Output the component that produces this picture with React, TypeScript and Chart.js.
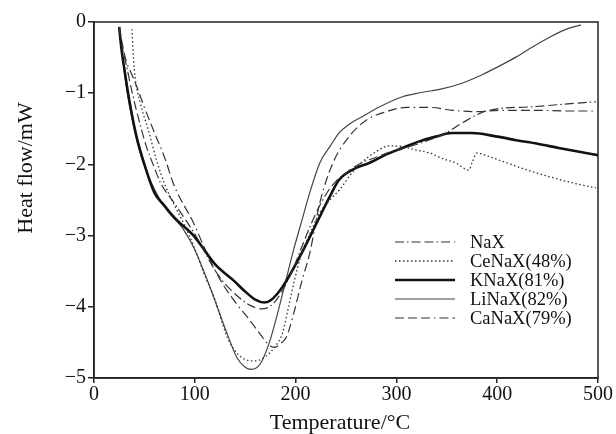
import { useEffect, useRef } from "react";
import { Chart, registerables } from "chart.js";

Chart.register(...registerables);

// Axis ticks
const xTickValues = [0, 100, 200, 300, 400, 500];
const yTickValues = [0, -1, -2, -3, -4, -5];

// NaX
const naxT = [25, 28, 32, 38, 45, 52, 60, 66, 80, 100, 123, 140, 155, 166, 176, 185, 195, 205, 215, 225, 236, 250, 265, 280, 295, 313, 330, 349, 365, 385, 400, 435, 470, 498];
const naxY = [-0.07, -0.35, -0.6, -1.0, -1.4, -1.75, -2.05, -2.26, -2.55, -2.98, -3.55, -3.82, -3.98, -4.03, -3.98, -3.82, -3.55, -3.2, -2.85, -2.55, -2.3, -2.12, -1.98, -1.9, -1.82, -1.75, -1.67, -1.56, -1.42, -1.27, -1.22, -1.19, -1.15, -1.12];

// CeNaX(48%)
const cenaxT = [37.6, 40, 46, 54, 62, 71, 80, 89, 99, 109, 120, 132, 140, 150, 160, 170, 180, 187, 193, 199, 205, 215, 224, 234, 244, 257, 270, 280, 293, 306, 320, 333, 346, 359, 372, 375, 380, 390, 402, 430, 451, 475, 498];
const cenaxY = [-0.1, -0.67, -1.14, -1.52, -1.94, -2.31, -2.58, -2.83, -3.15, -3.53, -3.9, -4.42, -4.62, -4.74, -4.76, -4.7, -4.55, -4.37, -4.0, -3.62, -3.3, -2.95, -2.68, -2.5, -2.35, -2.1, -1.92, -1.82, -1.74, -1.75, -1.8, -1.84, -1.92, -1.98, -2.08, -1.98, -1.84, -1.88, -1.94, -2.08, -2.17, -2.26, -2.33];

// KNaX(81%)
const knaxT = [25, 27, 30, 35, 42, 50, 60, 70, 80, 100, 120, 140, 148, 160, 169, 176, 187, 204, 221, 234, 243, 260, 273, 290, 306, 322, 339, 355, 375, 400, 419, 440, 461, 480, 500];
const knaxY = [-0.07, -0.35, -0.65, -1.1, -1.6, -2.0, -2.4, -2.58, -2.75, -3.02, -3.4, -3.65, -3.76, -3.9, -3.94, -3.9, -3.72, -3.3, -2.82, -2.45, -2.22, -2.05, -1.98, -1.86, -1.77, -1.68, -1.61, -1.56, -1.56, -1.61, -1.66, -1.71, -1.77, -1.82, -1.87];

// LiNaX(82%)
const linaxT = [25, 28, 32, 37, 45, 52, 60, 70, 89, 100, 116, 130, 142, 150, 156, 165, 174, 182, 190, 198, 206, 214, 224, 234, 243, 255, 266, 285, 306, 325, 345, 365, 385, 402, 419, 435, 451, 467, 483];
const linaxY = [-0.07, -0.45, -0.9, -1.3, -1.8, -2.1, -2.35, -2.6, -2.92, -3.2, -3.76, -4.3, -4.72, -4.85, -4.88, -4.8, -4.5, -4.1, -3.65, -3.2, -2.8, -2.4, -1.98, -1.75, -1.56, -1.42, -1.33, -1.18, -1.05, -0.99, -0.94, -0.86, -0.74, -0.62, -0.49, -0.35, -0.22, -0.11, -0.04];

// CaNaX(79%)
const canaxT = [25, 28, 32, 37, 42.5, 50, 59, 71, 79, 99, 112, 126, 142, 152, 163, 174, 179, 185, 191, 198, 206, 214, 224, 237, 253, 270, 290, 310, 333, 356, 380, 402, 440, 470, 498];
const canaxY = [-0.07, -0.3, -0.55, -0.72, -0.91, -1.2, -1.52, -1.94, -2.28, -2.83, -3.25, -3.64, -3.97, -4.14, -4.35, -4.54, -4.57, -4.52, -4.42, -4.1, -3.65, -3.25, -2.54, -1.98, -1.61, -1.38, -1.26, -1.2, -1.2, -1.24, -1.26, -1.24, -1.24, -1.25, -1.25];

const seriesNames = ["NaX", "CeNaX(48%)", "KNaX(81%)", "LiNaX(82%)", "CaNaX(79%)"];

const toPoints = (t: number[], y: number[]) => t.map((x, i) => ({ x, y: y[i] }));

const SERIF = "'Liberation Serif', 'DejaVu Serif', serif";

const decorPlugin = {
  id: "decor",
  afterDraw(chart: any) {
    const ctx = chart.ctx;
    const a = chart.chartArea;
    ctx.save();
    // frame
    ctx.strokeStyle = "#222";
    ctx.lineWidth = 1.5;
    ctx.setLineDash([]);
    ctx.strokeRect(a.left, a.top, a.right - a.left, a.bottom - a.top);

    // legend
    const rowsY = [242, 261, 280, 299, 318];
    ctx.font = `18.5px ${SERIF}`;
    ctx.textBaseline = "middle";
    ctx.textAlign = "left";
    chart.data.datasets.forEach((ds: any, i: number) => {
      const y = rowsY[i];
      ctx.beginPath();
      ctx.strokeStyle = ds.borderColor;
      ctx.lineWidth = ds.borderWidth;
      ctx.setLineDash(ds.borderDash || []);
      ctx.moveTo(395, y);
      ctx.lineTo(455, y);
      ctx.stroke();
      ctx.setLineDash([]);
      ctx.fillStyle = "#111";
      ctx.fillText(ds.label, 470, y + 1);
    });

    // axis titles
    ctx.fillStyle = "#111";
    ctx.font = `22px ${SERIF}`;
    ctx.textAlign = "center";
    ctx.textBaseline = "middle";
    ctx.fillText("Temperature/\u00B0C", 340, 423);
    ctx.translate(26, 168);
    ctx.rotate(-Math.PI / 2);
    ctx.fillText("Heat flow/mW", 0, 0);
    ctx.restore();
  },
};

export default function App() {
  const ref = useRef<HTMLCanvasElement | null>(null);

  useEffect(() => {
    if (!ref.current) return;
    const common = { pointRadius: 0, fill: false, tension: 0.4, cubicInterpolationMode: "monotone" as const };
    const chart = new Chart(ref.current, {
      type: "line",
      data: {
        datasets: [
          { ...common, label: seriesNames[0], data: toPoints(naxT, naxY), borderColor: "#333", borderWidth: 1.2, borderDash: [9, 3, 1.5, 3, 9, 4] },
          { ...common, label: seriesNames[1], data: toPoints(cenaxT, cenaxY), borderColor: "#333", borderWidth: 1.3, borderDash: [1.5, 2.5] },
          { ...common, label: seriesNames[2], data: toPoints(knaxT, knaxY), borderColor: "#111", borderWidth: 2.6, borderDash: [] },
          { ...common, label: seriesNames[3], data: toPoints(linaxT, linaxY), borderColor: "#444", borderWidth: 1.2, borderDash: [] },
          { ...common, label: seriesNames[4], data: toPoints(canaxT, canaxY), borderColor: "#333", borderWidth: 1.2, borderDash: [9, 4, 9, 4, 9, 4, 1.5, 4] },
        ],
      },
      options: {
        animation: false,
        responsive: false,
        devicePixelRatio: 1,
        layout: { padding: { top: 22, right: 18, left: 0, bottom: 0 } },
        plugins: { legend: { display: false }, tooltip: { enabled: false }, title: { display: false } },
        scales: {
          x: {
            type: "linear",
            min: 0,
            max: 500,
            afterFit: (s: any) => { s.height = 56; },
            afterBuildTicks: (s: any) => { s.ticks = xTickValues.map((v) => ({ value: v })); },
            ticks: { color: "#111", font: { family: SERIF, size: 20 }, padding: 0, maxRotation: 0 },
            grid: { display: true, drawOnChartArea: false, drawTicks: true, tickLength: 5, color: "#222", lineWidth: 1.5 },
            border: { display: true, color: "#222", width: 1.5 },
          },
          y: {
            type: "linear",
            min: -5,
            max: 0,
            afterFit: (s: any) => { s.width = 94; },
            afterBuildTicks: (s: any) => { s.ticks = yTickValues.map((v) => ({ value: v })); },
            ticks: {
              color: "#111",
              font: { family: SERIF, size: 20 },
              padding: 2,
              callback: (v: any) => (Number(v) < 0 ? "\u2212" + Math.abs(Number(v)) : String(v)),
            },
            grid: { display: true, drawOnChartArea: false, drawTicks: true, tickLength: 6, color: "#222", lineWidth: 1.5 },
            border: { display: true, color: "#222", width: 1.5 },
          },
        },
      },
      plugins: [decorPlugin],
    });
    return () => chart.destroy();
  }, []);

  return (
    <div style={{ position: "fixed", left: 0, top: 0, width: 616, height: 434, background: "#fff" }}>
      <canvas ref={ref} width={616} height={434} style={{ width: 616, height: 434, display: "block" }} />
    </div>
  );
}
